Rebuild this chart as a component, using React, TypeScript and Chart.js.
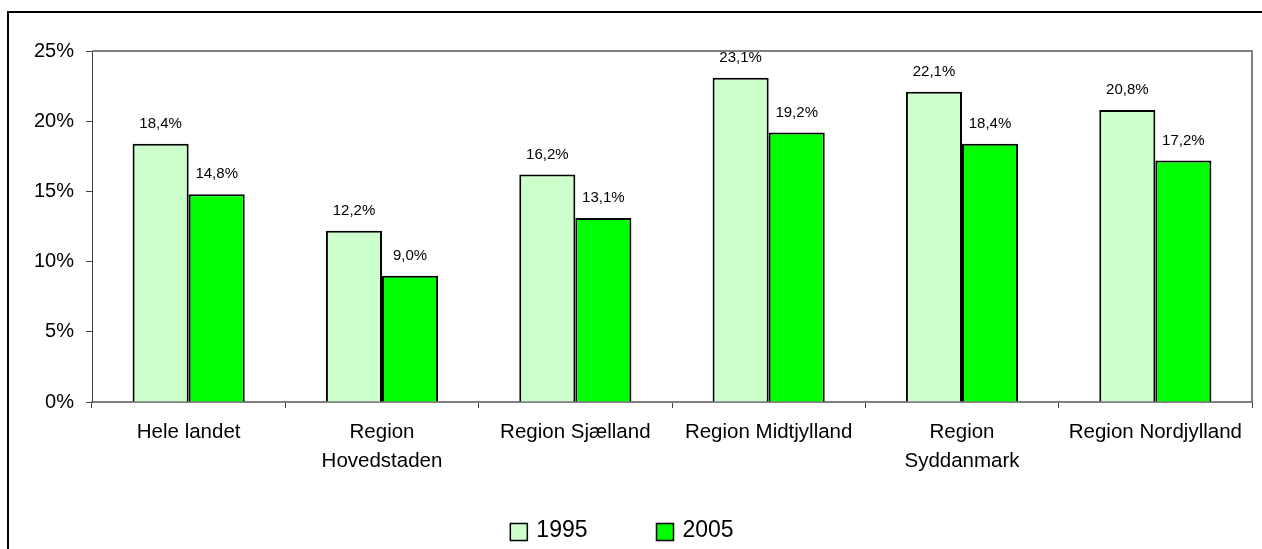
import React, { useEffect, useRef } from "react";
import { Chart, registerables } from "chart.js";

Chart.register(...registerables);

const categories: (string | string[])[] = [
  "Hele landet",
  ["Region", "Hovedstaden"],
  "Region Sjælland",
  "Region Midtjylland",
  ["Region", "Syddanmark"],
  "Region Nordjylland",
];
const series1995: number[] = [18.4, 12.2, 16.2, 23.1, 22.1, 20.8];
const series2005: number[] = [14.8, 9.0, 13.1, 19.2, 18.4, 17.2];
const seriesNames: string[] = ["1995", "2005"];
const yTicks: number[] = [0, 5, 10, 15, 20, 25];

const FONT = "Arial, 'Liberation Sans', sans-serif";

const plotFrame = {
  id: "plotFrame",
  afterDatasetsDraw(chart: any) {
    const { ctx, chartArea } = chart;
    ctx.save();
    ctx.strokeStyle = "#808080";
    ctx.lineWidth = 2;
    ctx.beginPath();
    ctx.moveTo(chartArea.left, chartArea.top);
    ctx.lineTo(chartArea.right, chartArea.top);
    ctx.lineTo(chartArea.right, chartArea.bottom);
    ctx.stroke();
    ctx.restore();
  },
};

const valueLabels = {
  id: "valueLabels",
  afterDatasetsDraw(chart: any) {
    const { ctx } = chart;
    ctx.save();
    ctx.font = `15px ${FONT}`;
    ctx.fillStyle = "#000";
    ctx.textAlign = "center";
    ctx.textBaseline = "middle";
    chart.data.datasets.forEach((ds: any, i: number) => {
      const meta = chart.getDatasetMeta(i);
      meta.data.forEach((bar: any, j: number) => {
        const v = ds.data[j] as number;
        const txt = v.toFixed(1).replace(".", ",") + "%";
        ctx.fillText(txt, bar.x, bar.y - 20);
      });
    });
    ctx.restore();
  },
};

const customLegend = {
  id: "customLegend",
  afterDraw(chart: any) {
    const { ctx } = chart;
    ctx.save();
    ctx.font = `23px ${FONT}`;
    const box = 17;
    const gapText = 9;
    const gapItem = 69;
    const widths = chart.data.datasets.map(
      (ds: any) => box + gapText + ctx.measureText(ds.label).width
    );
    const total = widths.reduce((a: number, b: number) => a + b, 0) + gapItem * (widths.length - 1);
    let x = 622 - total / 2;
    const cy = 532;
    chart.data.datasets.forEach((ds: any, i: number) => {
      ctx.fillStyle = ds.backgroundColor;
      ctx.fillRect(x, cy - box / 2, box, box);
      ctx.strokeStyle = "#000";
      ctx.lineWidth = 1.5;
      ctx.strokeRect(x, cy - box / 2, box, box);
      ctx.fillStyle = "#000";
      ctx.textAlign = "left";
      ctx.textBaseline = "alphabetic";
      ctx.fillText(ds.label, x + box + gapText, cy + 5);
      x += widths[i] + gapItem;
    });
    ctx.restore();
  },
};

export default function App() {
  const ref = useRef<HTMLCanvasElement | null>(null);

  useEffect(() => {
    if (!ref.current) return;
    const chart = new Chart(ref.current, {
      type: "bar",
      data: {
        labels: categories as any,
        datasets: [
          {
            label: seriesNames[0],
            data: series1995,
            backgroundColor: "#CCFFCC",
            borderColor: "#000",
            borderWidth: 2,
            categoryPercentage: 0.58,
            barPercentage: 1,
          },
          {
            label: seriesNames[1],
            data: series2005,
            backgroundColor: "#00FF00",
            borderColor: "#000",
            borderWidth: 2,
            categoryPercentage: 0.58,
            barPercentage: 1,
          },
        ],
      },
      options: {
        responsive: false,
        animation: false,
        layout: { padding: { top: 51, left: 0, right: 10, bottom: 0 } },
        plugins: {
          legend: { display: false },
          tooltip: { enabled: false },
          title: { display: false },
        },
        scales: {
          x: {
            grid: {
              offset: true,
              drawOnChartArea: false,
              drawTicks: true,
              tickLength: 6,
              color: "#404040",
            },
            border: { color: "#808080", width: 2 },
            ticks: {
              color: "#000",
              font: { family: FONT, size: 20.5, lineHeight: 1.45 },
              padding: 9,
              maxRotation: 0,
              autoSkip: false,
            },
            afterFit(scale: any) {
              scale.height = 147;
            },
          },
          y: {
            min: yTicks[0],
            max: yTicks[yTicks.length - 1],
            afterBuildTicks(scale: any) {
              scale.ticks = yTicks.map((v) => ({ value: v }));
            },
            grid: {
              drawOnChartArea: false,
              drawTicks: true,
              tickLength: 6,
              color: "#404040",
            },
            border: { color: "#404040", width: 1 },
            ticks: {
              color: "#000",
              font: { family: FONT, size: 20 },
              padding: 12,
              callback: (v: any) => `${v}%`,
            },
            afterFit(scale: any) {
              scale.width = 92;
            },
          },
        },
      },
      plugins: [plotFrame, valueLabels, customLegend],
    });
    return () => chart.destroy();
  }, []);

  return (
    <div
      style={{
        position: "absolute",
        left: 0,
        top: 0,
        width: 1262,
        height: 549,
        overflow: "hidden",
        background: "#fff",
      }}
    >
      <div
        style={{
          position: "absolute",
          left: 7,
          top: 11,
          width: 1300,
          height: 600,
          border: "2px solid #000",
        }}
      />
      <canvas
        ref={ref}
        width={1262}
        height={549}
        style={{ position: "absolute", left: 0, top: 0, width: 1262, height: 549 }}
      />
    </div>
  );
}
